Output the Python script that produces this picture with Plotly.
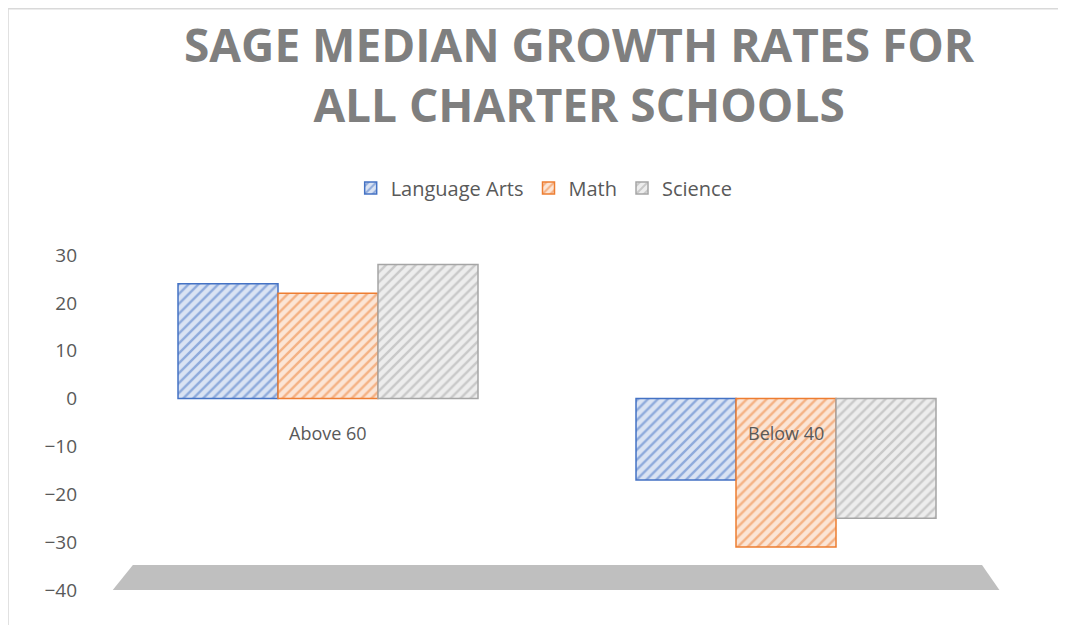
import plotly.graph_objects as go

categories = ["Above 60", "Below 40"]
series_names = ["Language Arts", "Math", "Science"]
language_arts = [24, -17]
math_vals = [22, -31]
science = [28, -25]
y_ticks = [30, 20, 10, 0, -10, -20, -30, -40]
title_text = "SAGE MEDIAN GROWTH RATES FOR<br>ALL CHARTER SCHOOLS"

colors = ["#4472C4", "#ED7D31", "#A5A5A5"]
bg_colors = ["#DAE3F3", "#FBE5D6", "#EDEDED"]
values = [language_arts, math_vals, science]

fig = go.Figure()
for name, vals, c, bg in zip(series_names, values, colors, bg_colors):
    fig.add_trace(go.Bar(
        name=name, x=categories, y=vals,
        marker=dict(color=bg, line=dict(color=c, width=1.5),
                    pattern=dict(shape="/", fgcolor=c, bgcolor=bg, size=7, solidity=0.35)),
    ))

# category labels near the zero plane
for cat in categories:
    fig.add_annotation(x=cat, y=0, yshift=-34, text=cat, showarrow=False,
                       font=dict(size=18, color="#595959", family="Open Sans"))

# title
fig.add_annotation(xref="paper", yref="paper", x=0.525, y=1.54, xanchor="center", yanchor="middle",
                   text=title_text, showarrow=False, align="center",
                   font=dict(size=46, color="#7F7F7F", family="Open Sans", weight="bold"))

# floor of the 3D chart
fig.add_shape(type="path", xref="paper", yref="paper",
              path="M 0.015 0.0 L 0.037 0.075 L 0.964 0.075 L 0.983 0.0 Z",
              fillcolor="#BFBFBF", line=dict(width=0), layer="below")

# chart border (top and left)
fig.add_shape(type="line", xref="paper", yref="paper", x0=-0.0993, x1=1.1, y0=1.735, y1=1.735,
              line=dict(color="#D9D9D9", width=1.5))
fig.add_shape(type="line", xref="paper", yref="paper", x0=-0.0993, x1=-0.0993, y0=-0.2, y1=1.735,
              line=dict(color="#D9D9D9", width=1.5))

fig.update_layout(
    width=1058, height=617,
    paper_bgcolor="white", plot_bgcolor="white",
    margin=dict(l=91, r=51, t=247, b=35, autoexpand=False),
    barmode="group", bargap=0.345, bargroupgap=0,
    showlegend=True,
    legend=dict(orientation="h", x=0.486, xanchor="center", y=1.2, yanchor="middle",
                font=dict(size=20, color="#595959", family="Open Sans"),
                itemwidth=30, traceorder="normal"),
    xaxis=dict(showticklabels=False, showgrid=False, zeroline=False, showline=False),
    yaxis=dict(range=[-40, 30], tickvals=y_ticks, showgrid=False, zeroline=False,
               showline=False, ticklabelstandoff=21, automargin=False,
               tickfont=dict(size=19, color="#595959", family="Open Sans")),
    font=dict(family="Open Sans", color="#595959"),
)

fig.write_html("out.html")
